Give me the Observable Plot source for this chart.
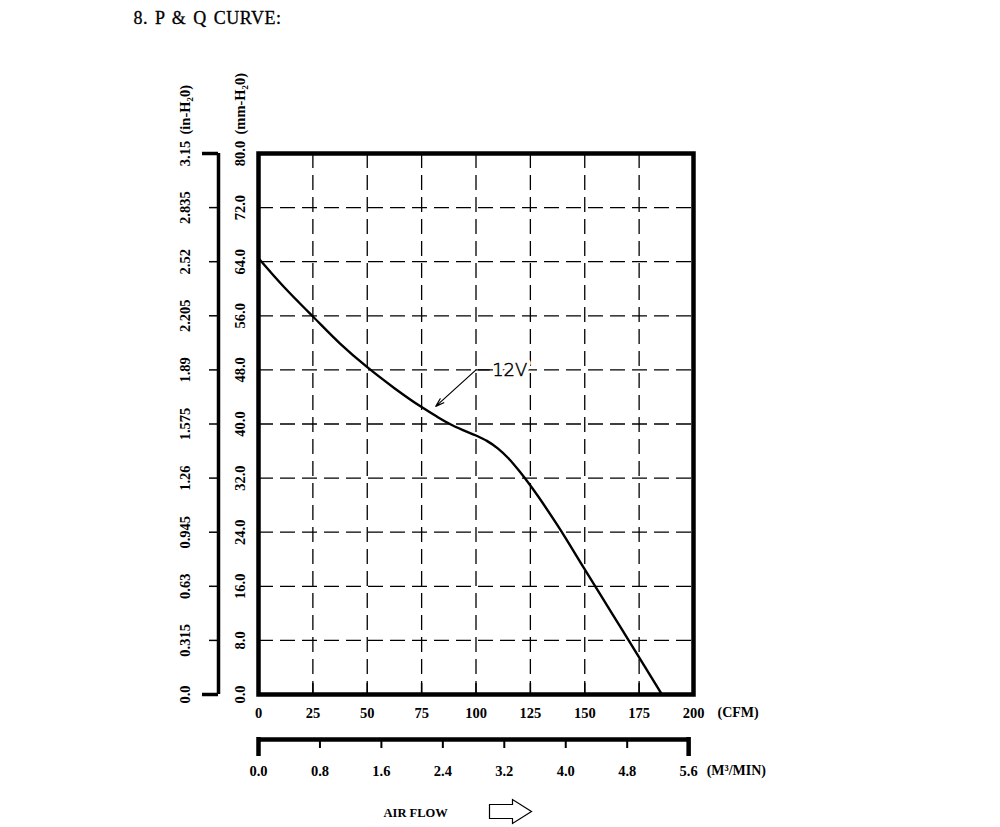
<!DOCTYPE html>
<html>
<head>
<meta charset="utf-8">
<script src="https://cdn.jsdelivr.net/npm/d3@7"></script>
<script src="https://cdn.jsdelivr.net/npm/@observablehq/plot@0.6"></script>
<style>
  html, body { margin: 0; padding: 0; background: #fff; }
  #chart svg { display: block; background: #fff; }
</style>
</head>
<body>
<div id="chart"></div>
<script>
// ---- data ----
const cfmTicks = [0, 25, 50, 75, 100, 125, 150, 175, 200];
const cfmGrid = [25, 50, 75, 100, 125, 150, 175];
const mmTicks = [0, 8, 16, 24, 32, 40, 48, 56, 64, 72, 80];
const mmGrid = [8, 16, 24, 32, 40, 48, 56, 64, 72];
const mmInnerTicks = [8, 16, 24, 32, 40, 48, 56, 64, 72];
const inLabels = ["0.0", "0.315", "0.63", "0.945", "1.26", "1.575", "1.89", "2.205", "2.52", "2.835", "3.15"];
const m3Ticks = [0, 0.8, 1.6, 2.4, 3.2, 4.0, 4.8, 5.6];
const m3Inner = [0.8, 1.6, 2.4, 3.2, 4.0, 4.8];
const m3Ends = [0, 5.6];
const CFM_PER_M3 = 35.315;

const airflowCFM = [0, 6, 12.5, 18.5, 25, 37.5, 50, 62.5, 75, 82, 88, 94, 100, 105, 110, 115, 120, 125, 137.5, 150, 162.5, 175, 185.5];
const pressureMM = [64.5, 62.3, 60.0, 58.0, 55.9, 51.9, 48.4, 45.3, 42.5, 41.1, 40.0, 39.1, 38.3, 37.5, 36.4, 34.9, 33.0, 30.9, 25.0, 18.5, 12.0, 5.5, 0];

const seriesLabel = ["12V"];
const labelCFM = [100];
const labelMM = [48];
const tipCFM = [81.5];
const tipMM = [42.6];
const leaderEndCFM = [106.5];

const title = "8. P & Q CURVE:";
const yTitleIn = "(in-H\u20820)";
const yTitleMM = "(mm-H\u20820)";
const xTitleCFM = "(CFM)";
const xTitleM3 = "(M\u00B3/MIN)";
const airFlowLabel = "AIR FLOW";

// ---- derived tables ----
const curve = airflowCFM.map((x, i) => ({x, y: pressureMM[i]}));
const annot = seriesLabel.map((t, i) => ({
  text: t, x: labelCFM[i], y: labelMM[i], tx: tipCFM[i], ty: tipMM[i], xe: leaderEndCFM[i]
}));

const serif = "'Liberation Serif', 'DejaVu Serif', serif";
const gridStyle = {stroke: "black", strokeWidth: 1.3, strokeDasharray: "15,7"};

// custom hollow block arrow symbol
const blockArrow = {
  draw(ctx) {
    ctx.moveTo(-21, -7);
    ctx.lineTo(2, -7);
    ctx.lineTo(2, -12);
    ctx.lineTo(21, 0);
    ctx.lineTo(2, 12);
    ctx.lineTo(2, 7);
    ctx.lineTo(-21, 7);
    ctx.closePath();
  }
};

const chart = Plot.plot({
  width: 1000,
  height: 827,
  marginLeft: 258,
  marginRight: 307,
  marginTop: 153,
  marginBottom: 133,
  x: {domain: [0, 200], axis: null},
  y: {domain: [0, 80], axis: null},
  style: {background: "white"},
  marks: [
    // grid
    Plot.ruleX(cfmGrid, {x: d => d, ...gridStyle}),
    Plot.ruleY(mmGrid, {y: d => d, ...gridStyle}),
    // inner ticks on the bottom frame
    Plot.ruleX(cfmGrid, {x: d => d, y1: 0, y2: 0, insetTop: -11, insetBottom: 0, stroke: "black", strokeWidth: 1.5}),
    // curve
    Plot.line(curve, {x: "x", y: "y", curve: "monotone-x", stroke: "black", strokeWidth: 2.4}),
    // annotation
    Plot.arrow(annot, {x1: "x", y1: "y", x2: "tx", y2: "ty", stroke: "black", strokeWidth: 1.2, headLength: 11, headAngle: 35}),
    Plot.ruleY(annot, {y: "y", x1: "x", x2: "xe", stroke: "black", strokeWidth: 1.2}),
    Plot.text(annot, {x: "xe", y: "y", text: "text", dx: 2, textAnchor: "start", lineAnchor: "middle",
      fontFamily: "'DejaVu Sans', sans-serif", fontWeight: 200, fontSize: 18, fill: "white",
      stroke: "white", strokeWidth: 8}),
    Plot.text(annot, {x: "xe", y: "y", text: "text", dx: 2, textAnchor: "start", lineAnchor: "middle",
      fontFamily: "'DejaVu Sans', sans-serif", fontWeight: 200, fontSize: 18, fill: "black",
      stroke: "black", strokeWidth: 0.5}),
    // frame
    Plot.frame({stroke: "black", strokeWidth: 4.5}),
    // bottom CFM labels
    Plot.text(cfmTicks, {x: d => d, frameAnchor: "bottom", dy: 19, text: d => String(d), lineAnchor: "middle",
      fontFamily: serif, fontWeight: "bold", fontSize: 14.5}),
    Plot.text([xTitleCFM], {frameAnchor: "bottom-right", dx: 24, dy: 18, text: d => d, textAnchor: "start", lineAnchor: "middle",
      fontFamily: serif, fontWeight: "bold", fontSize: 14}),
    // M3/MIN axis
    Plot.ruleY([0], {y: d => d, x1: 0, x2: 5.6 * CFM_PER_M3, dy: 45, stroke: "black", strokeWidth: 4.5}),
    Plot.ruleX(m3Inner, {x: d => d * CFM_PER_M3, y1: 0, y2: 0, insetTop: 0, insetBottom: -9, dy: 45, stroke: "black", strokeWidth: 2}),
    Plot.ruleX(m3Ends, {x: d => d * CFM_PER_M3, y1: 0, y2: 0, insetTop: -2, insetBottom: -17, dy: 45, stroke: "black", strokeWidth: 4.5}),
    Plot.text(m3Ticks, {x: d => d * CFM_PER_M3, frameAnchor: "bottom", dy: 77, text: d => d.toFixed(1), lineAnchor: "middle",
      fontFamily: serif, fontWeight: "bold", fontSize: 14.5}),
    Plot.text([xTitleM3], {x: () => 5.6 * CFM_PER_M3, frameAnchor: "bottom", dx: 18, dy: 76, text: d => d, textAnchor: "start", lineAnchor: "middle",
      fontFamily: serif, fontWeight: "bold", fontSize: 14}),
    // outer in-H2O axis
    Plot.ruleX([0], {x: d => d, dx: -40, stroke: "black", strokeWidth: 3.5}),
    Plot.ruleY([0, 80], {y: d => d, x1: 0, x2: 0, insetLeft: -16, insetRight: 0, dx: -40, stroke: "black", strokeWidth: 3.5}),
    Plot.ruleY(mmInnerTicks, {y: d => d, x1: 0, x2: 0, insetLeft: -9, insetRight: 0, dx: -40, stroke: "black", strokeWidth: 1.5}),
    // rotated tick labels
    Plot.text(mmTicks, {y: d => d, frameAnchor: "left", dx: -73, rotate: -90, text: (d, i) => inLabels[i],
      textAnchor: "middle", lineAnchor: "middle", fontFamily: serif, fontWeight: "bold", fontSize: 14.5}),
    Plot.text(mmTicks, {y: d => d, frameAnchor: "left", dx: -18, rotate: -90, text: d => d.toFixed(1),
      textAnchor: "middle", lineAnchor: "middle", fontFamily: serif, fontWeight: "bold", fontSize: 14.5}),
    Plot.text([yTitleIn], {frameAnchor: "top-left", dx: -73, dy: -19, rotate: -90, text: d => d,
      textAnchor: "start", lineAnchor: "middle", fontFamily: serif, fontWeight: "bold", fontSize: 14.5}),
    Plot.text([yTitleMM], {frameAnchor: "top-left", dx: -18, dy: -19, rotate: -90, text: d => d,
      textAnchor: "start", lineAnchor: "middle", fontFamily: serif, fontWeight: "bold", fontSize: 14.5}),
    // title
    Plot.text([title], {frameAnchor: "top-left", dx: -125, dy: -135, text: d => d, textAnchor: "start", lineAnchor: "middle",
      fontFamily: serif, fontSize: 18, fill: "black", stroke: "black", strokeWidth: 0.3}),
    // air flow
    Plot.text([airFlowLabel], {frameAnchor: "bottom-left", dx: 125, dy: 118, text: d => d, textAnchor: "start", lineAnchor: "middle",
      fontFamily: serif, fontWeight: "bold", fontSize: 12.5}),
    Plot.dot([0], {frameAnchor: "bottom-left", dx: 252, dy: 117, symbol: blockArrow, r: 10, fill: "none", stroke: "black", strokeWidth: 1.2})
  ]
});

// widen the title's letter spacing like the drawing's lettering
chart.querySelectorAll("text").forEach(t => {
  if (t.textContent === title) {
    t.setAttribute("letter-spacing", "0.5");
    t.setAttribute("word-spacing", "2");
  }
});

document.getElementById("chart").appendChild(chart);
</script>
</body>
</html>
